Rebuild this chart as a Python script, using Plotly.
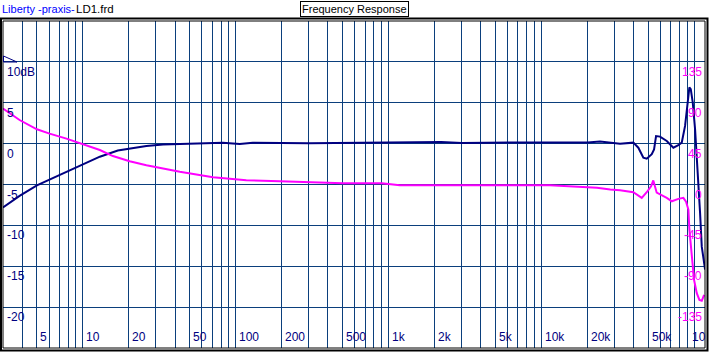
import math
import plotly.graph_objects as go

# ---- data ----
spl_freq = [3.0, 3.85, 5.0, 6.05, 7.8, 10, 12.9, 16.9, 20.2, 26, 33.4, 43, 60, 82, 106, 129,
            300, 600, 1040, 1500, 2200, 3000, 5000, 6800, 10000, 20000, 24070, 32530, 39780,
            42880, 46240, 48670, 52480, 54330, 55980, 59460, 65770, 72660, 78340, 82410,
            86660, 89740, 92470, 94420, 97280, 100760, 103380, 105900, 108640, 111440, 117140]
spl_db = [-7.8, -6.4, -5.1, -4.4, -3.4, -2.5, -1.6, -0.85, -0.6, -0.3, -0.1, -0.05, 0.0, 0.12, -0.04, 0.1,
          0.05, 0.1, 0.2, 0.2, 0.2, 0.08, 0.07, 0.15, 0.15, 0.15, 0.25, 0.0, 0.12,
          -0.5, -1.72, -1.84, -1.3, -0.7, 0.93, 0.86, 0.32, -0.5, -0.2, 0.12,
          2.16, 4.62, 6.88, 6.67, 5.04, 1.76, -1.52, -4.39, -8.5, -12.6, -15.4]

phase_freq = [3.0, 3.85, 5.0, 6.05, 7.8, 10, 12.9, 15.7, 20.2, 26, 33.4, 43, 55.2, 70.9, 91.2, 117,
              194, 320, 500, 900, 1180, 11300, 18600, 23000, 28100, 32530, 39780, 45120, 48670,
              51940, 53700, 56560, 65770, 70960, 78340, 84470, 87950, 91090, 92470, 95880,
              99250, 103380, 107530, 111440, 115420]
phase_deg = [83.7, 71, 60.8, 56, 50.5, 44.2, 38, 31.3, 25.7, 21.3, 17.4, 14, 11.1, 8.1, 6.3, 4.8,
             3.6, 2.5, 1.4, 1.4, -0.8, -0.8, -2.2, -3.6, -5.5, -6.3, -8.5, -14.7, -8.5,
             -2, 4.5, -9, -14.7, -18.5, -15.8, -14.7, -19, -27.6, -49.5, -75.4,
             -105, -119.7, -127, -128, -121.6]

freq_labels = [5, 10, 20, 50, 100, 200, 500, 1000, 2000, 5000, 10000, 20000, 50000]
freq_texts = ["5", "10", "20", "50", "100", "200", "500", "1k", "2k", "5k", "10k", "20k", "50k"]
edge_label = "10"   # the 100k label, cut by the frame
db_labels = [10, 5, 0, -5, -10, -15, -20]
db_texts = ["10dB", "5", "0", "-5", "-10", "-15", "-20"]
phase_labels = [135, 90, 45, 0, -45, -90, -135]
phase_texts = ["135", "90", "45", "0", "-45", "-90", "-135"]

# ---- layout constants ----
W, H = 709, 359
ML, MR, MT, MB = 3, 4, 21, 11
PW, PH = W - ML - MR, H - MT - MB
GRID = "#0b3f7c"
NAVY = "#000080"
MAG = "#ff00ff"
FONT = "Liberation Sans"

def px(x):
    return (x - ML) / PW

def py(y):
    return 1 - (y - MT) / PH

grid_vals = []
for d in range(0, 6):
    for m in range(1, 10):
        v = m * 10 ** d
        if 3 < v < 117000:
            grid_vals.append(v)

fig = go.Figure()
fig.add_trace(go.Scatter(x=spl_freq, y=spl_db, mode="lines",
                         line=dict(color=NAVY, width=2), yaxis="y", hoverinfo="skip"))
fig.add_trace(go.Scatter(x=phase_freq, y=phase_deg, mode="lines",
                         line=dict(color=MAG, width=2), yaxis="y2", hoverinfo="skip"))

ann = []
for f, t in zip(freq_labels, freq_texts):
    ann.append(dict(x=math.log10(f), y=0, xref="x", yref="paper", text=t, showarrow=False,
                    xanchor="left", yanchor="bottom", xshift=1, yshift=2,
                    font=dict(family=FONT, size=12, color=NAVY)))
ann.append(dict(x=1, y=0, xref="paper", yref="paper", text=edge_label, showarrow=False,
                xanchor="right", yanchor="bottom", xshift=3, yshift=2,
                font=dict(family=FONT, size=12, color=NAVY)))
for v, t in zip(db_labels, db_texts):
    ann.append(dict(x=0, y=v, xref="paper", yref="y", text=t, showarrow=False,
                    xanchor="left", yanchor="top", xshift=2, yshift=-1,
                    font=dict(family=FONT, size=12, color=NAVY)))
for v, t in zip(phase_labels, phase_texts):
    ann.append(dict(x=1, y=v, xref="paper", yref="y2", text=t, showarrow=False,
                    xanchor="right", yanchor="top", xshift=-1, yshift=-1,
                    font=dict(family=FONT, size=12, color=MAG)))
# header texts
ann.append(dict(x=px(0), y=py(1), xref="paper", yref="paper", text="Liberty -praxis-", showarrow=False,
                xanchor="left", yanchor="top", font=dict(family=FONT, size=11, color="#0000ff")))
ann.append(dict(x=px(74), y=py(1), xref="paper", yref="paper", text="LD1.frd", showarrow=False,
                xanchor="left", yanchor="top", font=dict(family=FONT, size=11.5, color="#000000")))
ann.append(dict(x=px(354), y=py(9), xref="paper", yref="paper", text="Frequency Response", showarrow=False,
                xanchor="center", yanchor="middle", font=dict(family=FONT, size=11, color="#000000"),
                bordercolor="#000000", borderwidth=1, borderpad=1, bgcolor="#ffffff"))

shapes = [
    dict(type="rect", xref="paper", yref="paper", x0=px(1), x1=px(707.5), y0=py(18.5), y1=py(350.5),
         line=dict(color="#000000", width=2)),
    dict(type="rect", xref="paper", yref="paper", x0=0, x1=1, y0=0, y1=1,
         line=dict(color="#000000", width=1)),
    dict(type="path", xref="paper", yref="paper",
         path=f"M {px(3.5)} {py(56)} L {px(3.5)} {py(62)} L {px(17)} {py(62)} Z",
         line=dict(color=NAVY, width=1)),
]

fig.update_layout(
    width=W, height=H,
    margin=dict(l=ML, r=MR, t=MT, b=MB, pad=0),
    paper_bgcolor="#ffffff", plot_bgcolor="#ffffff",
    showlegend=False,
    xaxis=dict(type="log", range=[math.log10(3), math.log10(117000)], tickvals=grid_vals,
               showticklabels=False, ticks="", showgrid=True, gridcolor=GRID, gridwidth=1,
               zeroline=False, showline=False, fixedrange=True),
    yaxis=dict(range=[-25, 15], tick0=-25, dtick=5, showticklabels=False, ticks="",
               showgrid=True, gridcolor=GRID, gridwidth=1, zeroline=False, showline=False),
    yaxis2=dict(range=[-180, 180], overlaying="y", side="right", showgrid=False,
                showticklabels=False, ticks="", zeroline=False, showline=False),
    annotations=ann,
    shapes=shapes,
)

fig.write_html("out.html", config={"displayModeBar": False},
               post_script="document.body.style.margin='0';document.body.style.overflow='hidden';")
